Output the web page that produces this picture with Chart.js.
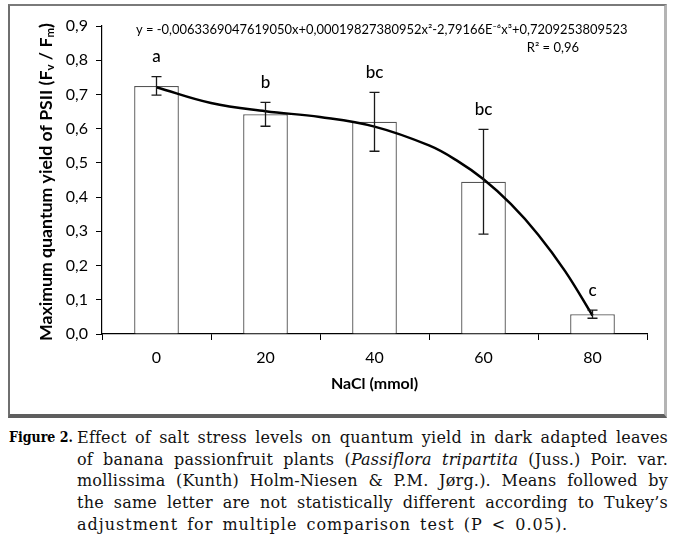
<!DOCTYPE html>
<html>
<head>
<meta charset="utf-8">
<script src="https://cdn.jsdelivr.net/npm/chart.js@4"></script>
<style>
  body { margin: 0; background: #fff; width: 676px; height: 536px; position: relative; overflow: hidden; }
  #frame { position: absolute; left: 8px; top: 4px; width: 654px; height: 408px;
           border-left: 2px solid #6f6f6f; border-top: 2px solid #7a7a7a;
           border-right: 3px solid #b4b4b4; border-bottom: 4px solid #5e5e5e; }
  #c { position: absolute; left: 0; top: 0; }
  #figlabel { position: absolute; left: 9px; top: 427px; font: bold 14px "DejaVu Serif Condensed", "DejaVu Serif", serif; font-stretch: condensed; line-height: 21.7px; }
  #caption { position: absolute; left: 77px; top: 427px; width: 591px; font: 16px "DejaVu Serif", serif; letter-spacing: 0.2px; line-height: 21.7px; color: #111; }
  #caption span { display: block; text-align: justify; text-align-last: justify; white-space: nowrap; }
  #caption span.last { text-align-last: left; letter-spacing: 1px; word-spacing: 3px; }
</style>
</head>
<body>
<div id="frame"></div>
<canvas id="c" width="676" height="420"></canvas>
<div id="figlabel">Figure 2.</div>
<div id="caption">
  <span>Effect of salt stress levels on quantum yield in dark adapted leaves</span>
  <span>of banana passionfruit plants (<i>Passiflora tripartita</i> (Juss.) Poir. var.</span>
  <span>mollissima (Kunth) Holm-Niesen &amp; P.M. Jørg.). Means followed by</span>
  <span>the same letter are not statistically different according to Tukey’s</span>
  <span class="last">adjustment for multiple comparison test (P &lt; 0.05).</span>
</div>
<script>
const doses = ["0", "20", "40", "60", "80"];
const yieldMeans = [0.725, 0.642, 0.62, 0.445, 0.058];
const yieldErrors = [0.027, 0.035, 0.086, 0.153, 0.012];
const letters = ["a", "b", "bc", "bc", "c"];
// fitted curve
const trendX = [0, 10, 20, 30, 40, 50, 55, 60, 65, 70, 75, 80];
const trendY = [0.721, 0.675, 0.651, 0.634, 0.606, 0.551, 0.508, 0.452, 0.38, 0.291, 0.183, 0.054];
const equation = "y = -0,0063369047619050x+0,00019827380952x²-2,79166E⁻⁶x³+0,7209253809523";
const rSquared = "R² = 0,96";
const xTitle = "NaCl (mmol)";

const fontFam = "Lato, 'Open Sans', sans-serif";

function fitFont(ctx, text, weight, size, width) {
    ctx.font = weight + " " + size + "px " + fontFam;
    const w = ctx.measureText(text).width;
    return size * width / w;
}

const extras = {
    id: "extras",
    afterDatasetsDraw(chart) {
        const ctx = chart.ctx;
        const x = chart.scales.x;
        const y = chart.scales.y;
        ctx.save();
        // error bars
        ctx.strokeStyle = "#1a1a1a";
        ctx.lineWidth = 1.3;
        yieldMeans.forEach((m, i) => {
            const px = x.getPixelForValue(i);
            const top = y.getPixelForValue(m + yieldErrors[i]);
            const bot = y.getPixelForValue(m - yieldErrors[i]);
            ctx.beginPath();
            ctx.moveTo(px, top); ctx.lineTo(px, bot);
            ctx.moveTo(px - 5, top); ctx.lineTo(px + 5, top);
            ctx.moveTo(px - 5, bot); ctx.lineTo(px + 5, bot);
            ctx.stroke();
        });
        // letters
        ctx.fillStyle = "#000";
        ctx.font = "500 17px " + fontFam;
        ctx.textAlign = "center";
        ctx.textBaseline = "middle";
        letters.forEach((l, i) => {
            const px = x.getPixelForValue(i);
            const top = y.getPixelForValue(yieldMeans[i] + yieldErrors[i]);
            ctx.fillText(l, px, top - 20);
        });
        ctx.restore();
    },
    afterDraw(chart) {
        const ctx = chart.ctx;
        const area = chart.chartArea;
        ctx.save();
        ctx.fillStyle = "#000";
        ctx.textBaseline = "middle";
        // equation + R²
        let s = fitFont(ctx, equation, "normal", 13, 492);
        ctx.font = s + "px " + fontFam;
        ctx.textAlign = "left";
        ctx.fillText(equation, 136, 30);
        ctx.font = "13px " + fontFam;
        ctx.textAlign = "right";
        ctx.fillText(rSquared, 579, 48);
        // x title
        ctx.font = "bold 16px " + fontFam;
        ctx.textAlign = "center";
        ctx.fillText(xTitle, (area.left + area.right) / 2, area.bottom + 50);
        // y title with subscripts
        const parts = [
            ["Maximum quantum yield of PSII (F", 0],
            ["v", 1],
            [" / F", 0],
            ["m", 1],
            [")", 0]
        ];
        let size = 15;
        let total = 0;
        parts.forEach(p => {
            ctx.font = "bold " + (p[1] ? size * 0.65 : size) + "px " + fontFam;
            total += ctx.measureText(p[0]).width;
        });
        size = size * 318 / total;
        ctx.translate(46, (area.top + area.bottom) / 2 + 2);
        ctx.rotate(-Math.PI / 2);
        ctx.textAlign = "left";
        let cx = -159;
        parts.forEach(p => {
            const fs = p[1] ? size * 0.65 : size;
            ctx.font = "bold " + fs + "px " + fontFam;
            ctx.fillText(p[0], cx, p[1] ? 4 : 0);
            cx += ctx.measureText(p[0]).width;
        });
        ctx.restore();
    }
};

new Chart(document.getElementById("c"), {
    type: "bar",
    data: {
        labels: doses,
        datasets: [{
            type: "line",
            data: trendX.map((v, i) => ({ x: v, y: trendY[i] })),
            xAxisID: "xl",
            borderColor: "#000",
            borderWidth: 2.5,
            pointRadius: 0,
            tension: 0.4,
            fill: false
        }, {
            data: yieldMeans,
            xAxisID: "x",
            grouped: false,
            backgroundColor: "#fff",
            borderColor: "#555",
            borderWidth: 1.3,
            barPercentage: 0.41,
            categoryPercentage: 1
        }]
    },
    options: {
        responsive: false,
        animation: false,
        layout: { padding: { left: 0, right: 29, top: 26, bottom: 0 } },
        plugins: { legend: { display: false }, tooltip: { enabled: false } },
        scales: {
            x: {
                afterFit: s => { s.height = 86; },
                grid: { drawOnChartArea: false, offset: true, tickLength: 6, color: "#000" },
                border: { color: "#000", width: 1.2 },
                ticks: { padding: 8, color: "#000", font: { family: fontFam, size: 16 } }
            },
            xl: {
                type: "linear",
                display: false,
                offset: false,
                min: -10,
                max: 90
            },
            y: {
                min: 0,
                max: 0.9,
                afterFit: s => { s.width = 102; },
                grid: { drawOnChartArea: false, tickLength: 6, color: "#000" },
                border: { color: "#000", width: 1.2 },
                ticks: {
                    stepSize: 0.1,
                    padding: 8,
                    color: "#000",
                    font: { family: fontFam, size: 16 },
                    callback: v => v.toFixed(1).replace(".", ",")
                }
            }
        }
    },
    plugins: [extras]
});
</script>
</body>
</html>
